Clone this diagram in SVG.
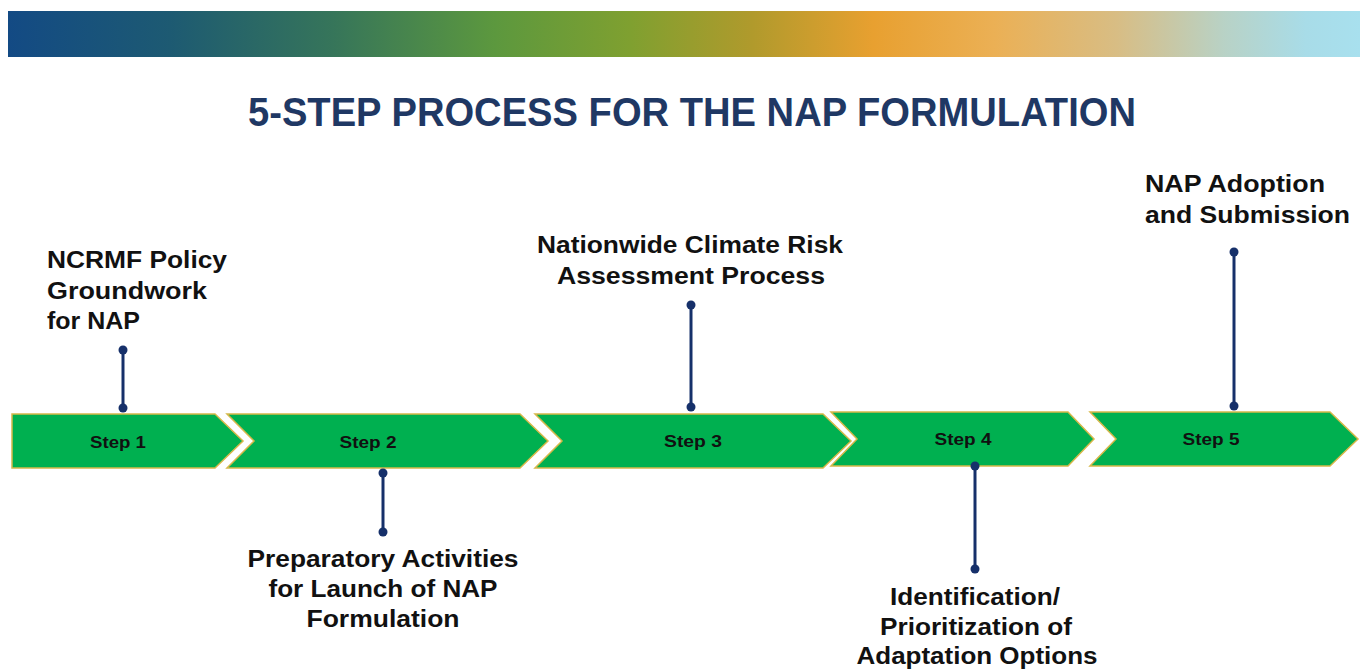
<svg xmlns="http://www.w3.org/2000/svg" width="1360" height="670" viewBox="0 0 1360 670">
<defs>
<linearGradient id="band" x1="0" y1="0" x2="1" y2="0">
<stop offset="0" stop-color="#134a84"/>
<stop offset="0.12" stop-color="#1d5a72"/>
<stop offset="0.24" stop-color="#36755a"/>
<stop offset="0.36" stop-color="#5c983e"/>
<stop offset="0.46" stop-color="#7fa030"/>
<stop offset="0.55" stop-color="#b09a2c"/>
<stop offset="0.64" stop-color="#e8a030"/>
<stop offset="0.73" stop-color="#ebb055"/>
<stop offset="0.82" stop-color="#d8bd84"/>
<stop offset="0.90" stop-color="#b8d2c6"/>
<stop offset="0.96" stop-color="#a8dce8"/>
<stop offset="1" stop-color="#a8e0ee"/>
</linearGradient>
</defs>
<style>
.step{fill:#00b050;stroke:#d6b84a;stroke-width:1.5;}
.slabel{font-family:"Liberation Sans",Arial,sans-serif;font-weight:bold;font-size:17px;fill:#111;text-anchor:middle;}
.lbl{font-family:"Liberation Sans",Arial,sans-serif;font-weight:bold;font-size:23px;fill:#111;}
.mid{text-anchor:middle;}
.title{font-family:"Liberation Sans",Arial,sans-serif;font-weight:bold;font-size:40px;fill:#1f3864;}
.conn line{stroke:#16306a;stroke-width:3;}
.conn circle{fill:#16306a;}
</style>
<rect width="1360" height="670" fill="#ffffff"/>
<rect x="8" y="11" width="1352" height="46" fill="url(#band)"/>
<text class="title" x="248" y="126" textLength="888" lengthAdjust="spacingAndGlyphs">5-STEP PROCESS FOR THE NAP FORMULATION</text>

<g id="step1">
<path class="step" d="M12,414 L215,414 L243,441 L215,468 L12,468 Z"/>
<text class="slabel" x="118" y="448" textLength="56" lengthAdjust="spacingAndGlyphs">Step 1</text>
</g>
<g id="step2">
<path class="step" d="M227,414 L520,414 L548,441 L520,468 L227,468 L254,441 Z"/>
<text class="slabel" x="368" y="448" textLength="57" lengthAdjust="spacingAndGlyphs">Step 2</text>
</g>
<g id="step3">
<path class="step" d="M535,414 L823,414 L851,441 L823,468 L535,468 L562,441 Z"/>
<text class="slabel" x="693" y="447" textLength="58" lengthAdjust="spacingAndGlyphs">Step 3</text>
</g>
<g id="step4">
<path class="step" d="M831,412 L1068,412 L1094,439 L1068,466 L831,466 L857,439 Z"/>
<text class="slabel" x="963" y="445" textLength="57" lengthAdjust="spacingAndGlyphs">Step 4</text>
</g>
<g id="step5">
<path class="step" d="M1090,412 L1330,412 L1358,439 L1330,466 L1090,466 L1116,439 Z"/>
<text class="slabel" x="1211" y="445" textLength="57" lengthAdjust="spacingAndGlyphs">Step 5</text>
</g>

<g id="connectors" class="conn">
<line x1="123" y1="350" x2="123" y2="408"/><circle cx="123" cy="350" r="4.5"/><circle cx="123" cy="408" r="4.5"/>
<line x1="383" y1="473" x2="383" y2="532"/><circle cx="383" cy="473" r="4.5"/><circle cx="383" cy="532" r="4.5"/>
<line x1="691" y1="305" x2="691" y2="407"/><circle cx="691" cy="305" r="4.5"/><circle cx="691" cy="407" r="4.5"/>
<line x1="975" y1="466" x2="975" y2="569"/><circle cx="975" cy="466" r="4.5"/><circle cx="975" cy="569" r="4.5"/>
<line x1="1234" y1="252" x2="1234" y2="406"/><circle cx="1234" cy="252" r="4.5"/><circle cx="1234" cy="406" r="4.5"/>
</g>

<g id="label1">
<text class="lbl" x="47" y="268" textLength="180" lengthAdjust="spacingAndGlyphs">NCRMF Policy</text>
<text class="lbl" x="47" y="299" textLength="160" lengthAdjust="spacingAndGlyphs">Groundwork</text>
<text class="lbl" x="47" y="329" textLength="93" lengthAdjust="spacingAndGlyphs">for NAP</text>
</g>
<g id="label2">
<text class="lbl mid" x="383" y="567" textLength="271" lengthAdjust="spacingAndGlyphs">Preparatory Activities</text>
<text class="lbl mid" x="383" y="597" textLength="229" lengthAdjust="spacingAndGlyphs">for Launch of NAP</text>
<text class="lbl mid" x="383" y="627" textLength="153" lengthAdjust="spacingAndGlyphs">Formulation</text>
</g>
<g id="label3">
<text class="lbl mid" x="690" y="253" textLength="306" lengthAdjust="spacingAndGlyphs">Nationwide Climate Risk</text>
<text class="lbl mid" x="691" y="284" textLength="268" lengthAdjust="spacingAndGlyphs">Assessment Process</text>
</g>
<g id="label4">
<text class="lbl mid" x="975" y="605" textLength="170" lengthAdjust="spacingAndGlyphs">Identification/</text>
<text class="lbl mid" x="976" y="635" textLength="192" lengthAdjust="spacingAndGlyphs">Prioritization of</text>
<text class="lbl mid" x="977" y="664" textLength="241" lengthAdjust="spacingAndGlyphs">Adaptation Options</text>
</g>
<g id="label5">
<text class="lbl" x="1145" y="192" textLength="180" lengthAdjust="spacingAndGlyphs">NAP Adoption</text>
<text class="lbl" x="1145" y="223" textLength="205" lengthAdjust="spacingAndGlyphs">and Submission</text>
</g>
</svg>
